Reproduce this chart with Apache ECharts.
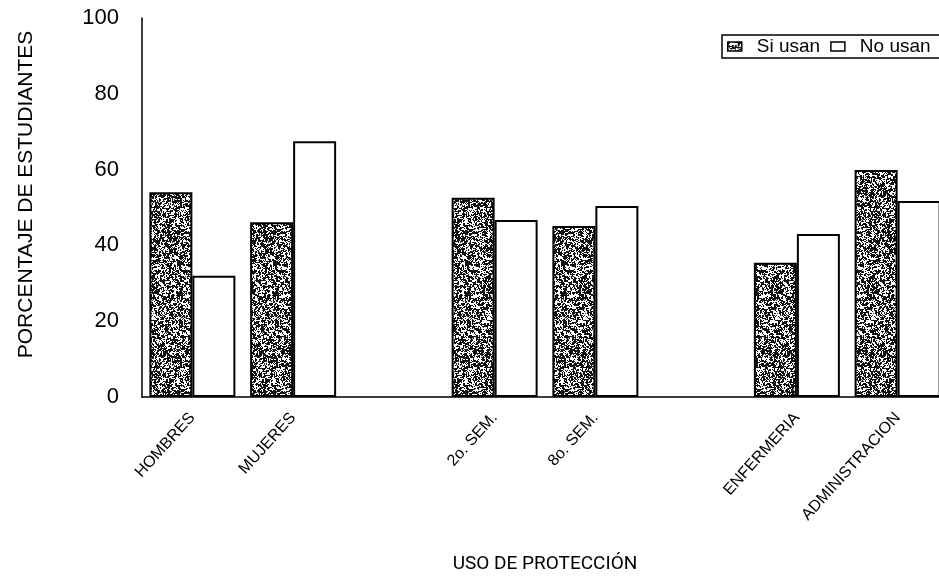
<!DOCTYPE html>
<html>
<head>
<meta charset="utf-8">
<style>
  html, body { margin: 0; padding: 0; background: #fff; }
  #chart { width: 939px; height: 578px; }
</style>
<script src="https://cdn.jsdelivr.net/npm/echarts@6/dist/echarts.min.js"></script>
</head>
<body>
<div id="chart"></div>
<script>
// Groups shown on the category axis; empty strings leave spacing between the groups
var categories = ['HOMBRES', 'MUJERES', '', '2o. SEM.', '8o. SEM.', '', 'ENFERMERIA', 'ADMINISTRACION'];
// Percentage of students who use protection / who don't
var siUsan = [54, 46.1, null, 52.6, 45.1, null, 35.4, 59.9];
var noUsan = [32, 67.5, null, 46.7, 50.4, null, 43, 51.7];
var yTicks = [0, 20, 40, 60, 80, 100];

// Stippled texture for the "Si usan" bars, built from a deterministic hash
function stipple() {
  var w = 48, h = 160;
  var c = document.createElement('canvas');
  c.width = w; c.height = h;
  var ctx = c.getContext('2d');
  ctx.fillStyle = '#ffffff';
  ctx.fillRect(0, 0, w, h);
  ctx.fillStyle = '#111111';
  function hash(x, y) {
    var s = Math.sin(x * 127.1 + y * 311.7) * 43758.5453;
    return s - Math.floor(s);
  }
  for (var y = 0; y < h; y++) {
    for (var x = 0; x < w; x++) {
      var v = hash(x, y);
      if (v < 0.45) ctx.fillRect(x, y, 1, 1);
      if (v < 0.08) ctx.fillRect(x, y, 2, 2);
    }
  }
  return c;
}
var pattern = { image: stipple(), repeat: 'repeat' };

var chart = echarts.init(document.getElementById('chart'), null, { renderer: 'canvas' });
var font = '"Liberation Sans", Arial, sans-serif';

chart.setOption({
  animation: false,
  backgroundColor: '#ffffff',
  textStyle: { fontFamily: font, color: '#000' },
  grid: { left: 142, right: -9, top: 18, bottom: 181, containLabel: false, outerBoundsMode: 'none' },
  legend: {
    left: 722,
    top: 35,
    width: 400,
    orient: 'horizontal',
    itemWidth: 14,
    itemHeight: 9,
    itemGap: 10,
    padding: [2, 40, 2, 5],
    borderColor: '#000',
    borderWidth: 1.5,
    backgroundColor: '#fff',
    textStyle: { fontFamily: font, fontSize: 19, color: '#000', padding: [0, 0, 0, 10] },
    data: [
      { name: 'Si usan', icon: 'rect', itemStyle: { borderColor: '#000', borderWidth: 1.5 } },
      { name: 'No usan', icon: 'rect', itemStyle: { borderColor: '#000', borderWidth: 1.5 } }
    ]
  },
  xAxis: {
    type: 'category',
    data: categories,
    boundaryGap: true,
    axisLine: { show: true, lineStyle: { color: '#000', width: 1.5 } },
    axisTick: { show: false },
    splitLine: { show: false },
    axisLabel: {
      interval: 0,
      rotate: 48,
      margin: 18,
      fontSize: 16,
      fontFamily: font,
      color: '#000'
    },
    name: 'USO DE PROTECCIÓN',
    nameLocation: 'middle',
    nameGap: 158,
    nameTextStyle: { fontFamily: 'Roboto, sans-serif', fontSize: 19, color: '#000' }
  },
  yAxis: {
    type: 'value',
    min: yTicks[0],
    max: yTicks[yTicks.length - 1],
    interval: 20,
    axisLine: { show: true, lineStyle: { color: '#000', width: 1.5 } },
    axisTick: { show: false },
    splitLine: { show: false },
    axisLabel: { fontSize: 22, margin: 23, fontFamily: font, color: '#000' },
    name: 'PORCENTAJE DE ESTUDIANTES',
    nameLocation: 'middle',
    nameRotate: 90,
    nameGap: 105,
    nameTextStyle: { fontSize: 21, fontFamily: font, color: '#000', padding: [0, 0, 0, 26] }
  },
  series: [
    {
      name: 'Si usan',
      type: 'bar',
      data: siUsan,
      barWidth: 43,
      barGap: '0%',
      itemStyle: { color: pattern, borderColor: '#000', borderWidth: 2 }
    },
    {
      name: 'No usan',
      type: 'bar',
      data: noUsan,
      barWidth: 43,
      barGap: '0%',
      itemStyle: { color: '#ffffff', borderColor: '#000', borderWidth: 2 }
    }
  ]
});
</script>
</body>
</html>
